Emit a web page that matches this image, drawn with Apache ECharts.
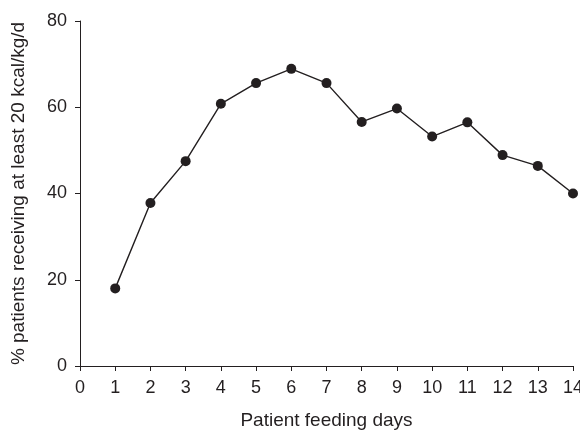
<!DOCTYPE html>
<html><head><meta charset="utf-8">
<script src="https://cdn.jsdelivr.net/npm/echarts@6/dist/echarts.min.js"></script>
<style>html,body{margin:0;padding:0;background:#fff}#c{width:580px;height:430px}</style>
</head><body><div id="c"></div>
<script>
const days = [1,2,3,4,5,6,7,8,9,10,11,12,13,14];
const pct = [18.0,37.8,47.5,60.8,65.6,68.9,65.6,56.6,59.7,53.2,56.5,48.9,46.4,40.0];
const xTicks = [0,14,1];
const yTicks = [0,80,20];
const chart = echarts.init(document.getElementById('c'));
const axCol = '#231f20';
chart.setOption({
  animation:false,
  grid:{left:80,right:7,top:21,bottom:64,containLabel:false,outerBoundsMode:'none'},
  xAxis:{type:'value',min:xTicks[0],max:xTicks[1],interval:xTicks[2],
    name:'Patient feeding days',nameLocation:'middle',nameGap:45,
    nameTextStyle:{fontFamily:'Liberation Sans',fontSize:19,color:axCol},
    axisLine:{lineStyle:{color:axCol,width:1}},
    axisTick:{show:true,length:5,lineStyle:{color:axCol}},
    axisLabel:{fontFamily:'Liberation Sans',fontSize:18,color:axCol,margin:13},
    splitLine:{show:false}},
  yAxis:{type:'value',min:yTicks[0],max:yTicks[1],interval:yTicks[2],
    name:'% patients receiving at least 20 kcal/kg/d',nameLocation:'middle',nameGap:52,
    nameTextStyle:{fontFamily:'Liberation Sans',fontSize:19,color:axCol},
    axisLine:{show:true,lineStyle:{color:axCol,width:1}},
    axisTick:{show:true,length:5,lineStyle:{color:axCol}},
    axisLabel:{fontFamily:'Liberation Sans',fontSize:18,color:axCol,margin:13},
    splitLine:{show:false}},
  series:[{type:'line',data:days.map((d,i)=>[d,pct[i]]),
    symbol:'circle',symbolSize:10,
    lineStyle:{color:axCol,width:1.4},
    itemStyle:{color:axCol,borderWidth:0}}]
});
</script></body></html>
